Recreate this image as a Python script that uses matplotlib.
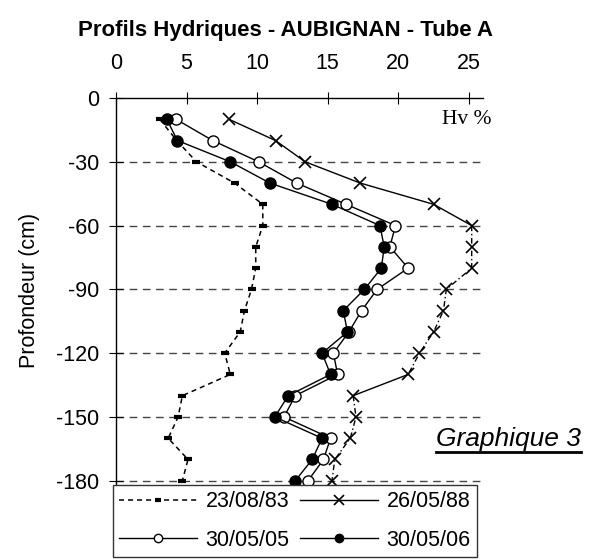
import matplotlib
matplotlib.use("Agg")
import matplotlib.pyplot as plt
from matplotlib.lines import Line2D

plt.rcParams['font.family'] = ['Liberation Sans', 'DejaVu Sans']

# profondeur (cm) et humidité volumique (%)
prof = [-10, -20, -30, -40, -50, -60, -70, -80, -90, -100,
        -110, -120, -130, -140, -150, -160, -170, -180]
hv83 = [3.1, 4.3, 5.7, 8.4, 10.4, 10.4, 9.9, 9.9, 9.6, 9.1,
        8.8, 7.7, 8.1, 4.7, 4.4, 3.7, 5.1, 4.7]
hv88 = [8.0, 11.3, 13.4, 17.3, 22.5, 25.2, 25.2, 25.2, 23.4, 23.2,
        22.5, 21.5, 20.7, 16.8, 17.0, 16.6, 15.5, 15.3]
hv05 = [4.25, 6.85, 10.1, 12.8, 16.3, 19.8, 19.4, 20.7, 18.5, 17.4,
        16.5, 15.4, 15.7, 12.7, 11.9, 15.2, 14.7, 13.6]
hv06 = [3.6, 4.35, 8.1, 10.9, 15.3, 18.7, 19.0, 18.8, 17.6, 16.1,
        16.4, 14.6, 15.2, 12.2, 11.25, 14.6, 13.9, 12.7]

xticks = [0, 5, 10, 15, 20, 25]
yticks = [0, -30, -60, -90, -120, -150, -180]

W, H = 598, 559
fig = plt.figure(figsize=(W / 100, H / 100), dpi=100)
ax = fig.add_axes([116 / W, 1 - 485 / H, (483 - 116) / W, (485 - 98) / H])
ax.set_xlim(0, 26)
ax.set_ylim(-182, 0)

for y in yticks[1:]:
    ax.axhline(y, color='#444444', lw=1, linestyle=(0, (5.5, 4)), zorder=1)

l83, = ax.plot(hv83, prof, color='black', lw=1.1, linestyle=(0, (3.3, 2.6)),
               marker='_', ms=6, mew=3, clip_on=False, zorder=3)

# 26/05/88 : trait plein + tronçons plus raides en pointillé
ax.plot(hv88[:6], prof[:6], color='black', lw=1, clip_on=False, zorder=3)
ax.plot(hv88[12:14], prof[12:14], color='black', lw=1, clip_on=False, zorder=3)
ax.plot(hv88[5:13], prof[5:13], color='black', lw=1,
        linestyle=(0, (4, 2, 1, 2)), clip_on=False, zorder=3)
ax.plot(hv88[13:], prof[13:], color='black', lw=1,
        linestyle=(0, (4, 2, 1, 2)), clip_on=False, zorder=3)
ax.plot(hv88, prof, linestyle='none', marker='x', ms=9, mew=1.2,
        color='black', clip_on=False, zorder=4)
l88 = Line2D([], [], color='black', lw=1, marker='x', ms=9, mew=1.2)

l05, = ax.plot(hv05, prof, color='black', lw=1, marker='o', ms=8,
               mfc='white', mec='black', mew=1, clip_on=False, zorder=4)
l06, = ax.plot(hv06, prof, color='black', lw=1, marker='o', ms=8,
               mfc='black', mec='black', clip_on=False, zorder=5)

ax.spines['right'].set_visible(False)
ax.spines['bottom'].set_visible(False)
ax.spines['left'].set_linewidth(1)
ax.spines['top'].set_linewidth(1)
ax.xaxis.tick_top()
ax.set_xticks(xticks)
ax.set_yticks(yticks)
ax.set_yticklabels([str(v) for v in yticks])
ax.tick_params(axis='x', direction='inout', length=8, pad=13, labelsize=15.5)
ax.tick_params(axis='y', direction='inout', length=10, pad=7, labelsize=15.5)

ax.text(26.6, -10, 'Hv %', family='Liberation Serif', fontsize=15.5,
        ha='right', va='center')

fig.text(286 / W, 1 - 36 / H, 'Profils Hydriques - AUBIGNAN - Tube A',
         fontsize=16, fontweight='bold', ha='center', va='baseline')
fig.text(30 / W, 1 - 290 / H, 'Profondeur (cm)', fontsize=15.5,
         rotation=90, ha='center', va='center')

g3 = fig.text(436 / W, 1 - 446 / H, 'Graphique 3', fontsize=19,
              style='italic', ha='left', va='baseline')
fig.canvas.draw()
bb = g3.get_window_extent()
fig.add_artist(Line2D([bb.x0 / W, bb.x1 / W], [(bb.y0 - 1) / H] * 2,
                      color='black', lw=2, transform=fig.transFigure))

leg = fig.legend([l83, l05, l88, l06],
                 ['23/08/83', '30/05/05', '26/05/88', '30/05/06'],
                 loc='upper left', bbox_to_anchor=(113 / W, 1 - 485 / H),
                 borderaxespad=0, ncol=2, fontsize=15.5, handlelength=3.6,
                 handletextpad=0.4, columnspacing=0.5, labelspacing=0.8,
                 borderpad=0.3, markerscale=0.75, fancybox=False,
                 edgecolor='#333333', framealpha=1, numpoints=1)
leg.get_frame().set_linewidth(1)

fig.savefig('out.png', dpi=100)
